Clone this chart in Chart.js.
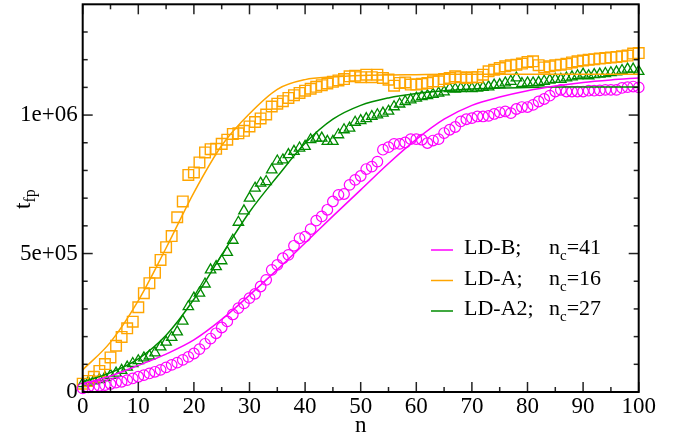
<!DOCTYPE html>
<html><head><meta charset="utf-8">
<script src="https://cdn.jsdelivr.net/npm/chart.js@4/dist/chart.umd.min.js"></script>
<style>html,body{margin:0;padding:0;background:#fff;}#wrap{width:683px;height:439px;}</style>
</head><body><div id="wrap"><canvas id="c" width="683" height="439"></canvas></div>
<script>
// ---- data ----
const nValues = [0,1,2,3,4,5,6,7,8,9,10,11,12,13,14,15,16,17,18,19,20,21,22,23,24,25,26,27,28,29,30,31,32,33,34,35,36,37,38,39,40,41,42,43,44,45,46,47,48,49,50,51,52,53,54,55,56,57,58,59,60,61,62,63,64,65,66,67,68,69,70,71,72,73,74,75,76,77,78,79,80,81,82,83,84,85,86,87,88,89,90,91,92,93,94,95,96,97,98,99,100];

const ldB = [13000,17000,19000,22000,25000,29000,34000,37000,43000,49000,
55000,61000,67000,73000,80000,89000,98000,106000,116000,127000,
139000,155000,174000,193000,212000,233000,255000,280000,303000,320000,
339000,354000,381000,405000,441000,459000,483000,495000,528000,555000,
561000,588000,619000,634000,658000,688000,712000,715000,748000,766000,
780000,805000,814000,832000,875000,884000,896000,896000,901000,913000,
913000,911000,899000,908000,913000,935000,947000,957000,977000,985000,
989000,995000,995000,997000,1004000,1010000,1013000,1007000,1022000,1029000,
1029000,1037000,1049000,1058000,1070000,1085000,1091000,1085000,1085000,1085000,
1085000,1088000,1088000,1089000,1091000,1091000,1091000,1098000,1101000,1103000,
1100000];

const ldA = [30000,40000,55000,76000,101000,125000,167000,199000,230000,254000,
306000,357000,393000,431000,477000,523000,563000,631000,688000,784000,
793000,829000,865000,877000,878000,896000,911000,932000,934000,943000,
959000,975000,988000,1002000,1031000,1041000,1050000,1062000,1072000,1080000,
1088000,1095000,1102000,1108000,1114000,1120000,1125000,1130000,1140000,1142000,
1137000,1146000,1137000,1146000,1134000,1128000,1106000,1116000,1118000,1110000,
1110000,1113000,1116000,1122000,1122000,1130000,1134000,1140000,1137000,1134000,
1137000,1137000,1146000,1158000,1164000,1170000,1176000,1180000,1182000,1186000,
1192000,1194000,1180000,1172000,1176000,1180000,1182000,1185000,1190000,1194000,
1197000,1200000,1202000,1204000,1206000,1208000,1210000,1212000,1215000,1222000,
1224000];

const ldA2 = [30000,35000,40000,45000,52000,60000,68000,78000,90000,103000,
113000,123000,130000,141000,163000,180000,197000,217000,256000,308000,
339000,357000,390000,441000,453000,474000,504000,548000,613000,654000,
700000,736000,754000,760000,802000,834000,838000,857000,869000,881000,
887000,911000,917000,917000,905000,905000,929000,947000,953000,974000,
980000,987000,995000,1001000,1007000,1014000,1030000,1040000,1049000,1055000,
1061000,1067000,1070000,1075000,1079000,1084000,1096000,1094000,1096000,1097000,
1096000,1097000,1100000,1102000,1108000,1110000,1116000,1122000,1134000,1114000,
1116000,1116000,1118000,1122000,1126000,1129000,1129000,1134000,1138000,1142000,
1148000,1142000,1146000,1148000,1150000,1153000,1156000,1161000,1166000,1166000,
1158000];

const fitN = [0,5,10,15,20,25,30,35,40,45,50,55,60,65,70,75,80,85,90,95,100];
const fitB = [30000,58000,96000,137000,188000,262000,350000,442000,538000,635000,730000,825000,912000,985000,1035000,1065000,1088000,1105000,1118000,1127000,1134000];
const fitA = [80000,180000,330000,520000,720000,890000,1005000,1093000,1128000,1138000,1143000,1145000,1146000,1147000,1147000,1147000,1147000,1147000,1147000,1147000,1147000];
const fitA2 = [36000,70000,120000,205000,335000,495000,650000,778000,898000,985000,1035000,1062000,1078000,1088000,1094000,1098000,1100000,1101000,1101000,1101000,1101000];

const xTickValues = [0,10,20,30,40,50,60,70,80,90,100];
const xTickLabels = ['0','10','20','30','40','50','60','70','80','90','100'];
const xMinorValues = [5,15,25,35,45,55,65,75,85,95];
const yTickValues = [0,500000,1000000];
const yTickLabels = ['0','5e+05','1e+06'];
const yMinorValues = [100000,200000,300000,400000,600000,700000,800000,900000,1100000,1200000,1300000];

const legendNames = ['LD-B;','LD-A;','LD-A2;'];
const legendNc = ['41','16','27'];

// ---- style ----
const MAG = '#ff00ff', ORA = '#ffa500', GRN = '#008b00';
const SERIF = '"Liberation Serif", "Times New Roman", serif';
const legendColors = [MAG, ORA, GRN];

const pts = (xs, ys) => xs.map((v, i) => ({x: v, y: ys[i]}));

const framePlugin = {
  id: 'frame',
  afterDatasetsDraw(chart) {
    const {ctx, chartArea: a, scales: {x, y}} = chart;
    ctx.save();
    ctx.strokeStyle = '#222';
    ctx.lineWidth = 1.5;
    const seg = (x1, y1, x2, y2) => { ctx.beginPath(); ctx.moveTo(x1, y1); ctx.lineTo(x2, y2); ctx.stroke(); };
    const xt = (v, len) => { const p = x.getPixelForValue(v); seg(p, a.bottom, p, a.bottom - len); seg(p, a.top, p, a.top + len); };
    const yt = (v, len) => { const p = y.getPixelForValue(v); seg(a.left, p, a.left + len, p); seg(a.right, p, a.right - len, p); };
    xTickValues.forEach(v => xt(v, 10));
    xMinorValues.forEach(v => xt(v, 5));
    yTickValues.forEach(v => yt(v, 10));
    yMinorValues.forEach(v => yt(v, 5));
    ctx.strokeStyle = '#000';
    ctx.lineWidth = 2;
    ctx.strokeRect(a.left, a.top, a.right - a.left, a.bottom - a.top);

    // axis titles
    ctx.fillStyle = '#000';
    ctx.font = '23px ' + SERIF;
    ctx.textAlign = 'center';
    ctx.textBaseline = 'alphabetic';
    ctx.fillText('n', (a.left + a.right) / 2, 432);

    ctx.save();
    ctx.translate(30, 209);
    ctx.rotate(-Math.PI / 2);
    ctx.textAlign = 'left';
    ctx.font = '23px ' + SERIF;
    ctx.fillText('t', 0, 0);
    const tw = ctx.measureText('t').width;
    ctx.font = '16px ' + SERIF;
    ctx.fillText('fp', tw, 5);
    ctx.restore();

    // legend
    const rowY = [250, 280.5, 311];
    legendNames.forEach((name, i) => {
      const ly = rowY[i];
      ctx.strokeStyle = legendColors[i];
      ctx.lineWidth = 1.5;
      seg(431, ly, 453, ly);
      ctx.fillStyle = '#000';
      ctx.textAlign = 'left';
      ctx.font = '22px ' + SERIF;
      ctx.fillText(name, 464, ly + 4);
      ctx.fillText('n', 549, ly + 4);
      const nw = ctx.measureText('n').width;
      ctx.font = '15px ' + SERIF;
      ctx.fillText('c', 549 + nw, ly + 10);
      const cw = ctx.measureText('c').width;
      ctx.font = '22px ' + SERIF;
      ctx.fillText('=' + legendNc[i], 549 + nw + cw, ly + 4);
    });
    ctx.restore();
  }
};

new Chart(document.getElementById('c'), {
  type: 'scatter',
  data: {
    datasets: [
      {label: 'LD-B fit', data: pts(fitN, fitB), showLine: true, pointRadius: 0, borderColor: MAG, borderWidth: 1.5, cubicInterpolationMode: 'monotone', fill: false},
      {label: 'LD-A fit', data: pts(fitN, fitA), showLine: true, pointRadius: 0, borderColor: ORA, borderWidth: 1.5, cubicInterpolationMode: 'monotone', fill: false},
      {label: 'LD-A2 fit', data: pts(fitN, fitA2), showLine: true, pointRadius: 0, borderColor: GRN, borderWidth: 1.5, cubicInterpolationMode: 'monotone', fill: false},
      {label: 'LD-B', data: pts(nValues, ldB), pointStyle: 'circle', pointRadius: 5.3, pointBorderWidth: 1.2, borderColor: MAG, pointBorderColor: MAG, backgroundColor: 'rgba(0,0,0,0)', pointBackgroundColor: 'rgba(0,0,0,0)', clip: false},
      {label: 'LD-A', data: pts(nValues, ldA), pointStyle: 'rect', pointRadius: 7.5, pointBorderWidth: 1.4, borderColor: ORA, pointBorderColor: ORA, backgroundColor: 'rgba(0,0,0,0)', pointBackgroundColor: 'rgba(0,0,0,0)', clip: false},
      {label: 'LD-A2', data: pts(nValues, ldA2), pointStyle: 'triangle', pointRadius: 6, pointBorderWidth: 1.3, borderColor: GRN, pointBorderColor: GRN, backgroundColor: 'rgba(0,0,0,0)', pointBackgroundColor: 'rgba(0,0,0,0)', clip: false}
    ]
  },
  options: {
    responsive: false,
    animation: false,
    devicePixelRatio: 1,
    events: [],
    layout: {autoPadding: false, padding: {left: 0, top: 4.3, right: 44.3, bottom: 0}},
    plugins: {legend: {display: false}, tooltip: {enabled: false}},
    scales: {
      x: {
        type: 'linear', min: 0, max: 100,
        afterBuildTicks: s => { s.ticks = xTickValues.map(v => ({value: v})); },
        afterFit: s => { s.height = 47; s.paddingLeft = 0; s.paddingRight = 0; },
        grid: {display: false, drawTicks: false},
        border: {display: false},
        ticks: {font: {family: SERIF, size: 23}, color: '#000', padding: 1, maxRotation: 0, autoSkip: false,
          callback: v => xTickLabels[xTickValues.indexOf(v)]}
      },
      y: {
        type: 'linear', min: 0, max: 1400000,
        afterBuildTicks: s => { s.ticks = yTickValues.map(v => ({value: v})); },
        afterFit: s => { s.width = 82.7; s.paddingTop = 0; s.paddingBottom = 0; },
        grid: {display: false, drawTicks: false},
        border: {display: false},
        ticks: {font: {family: SERIF, size: 23}, color: '#000', padding: 5,
          callback: v => yTickLabels[yTickValues.indexOf(v)]}
      }
    }
  },
  plugins: [framePlugin]
});
</script></body></html>
